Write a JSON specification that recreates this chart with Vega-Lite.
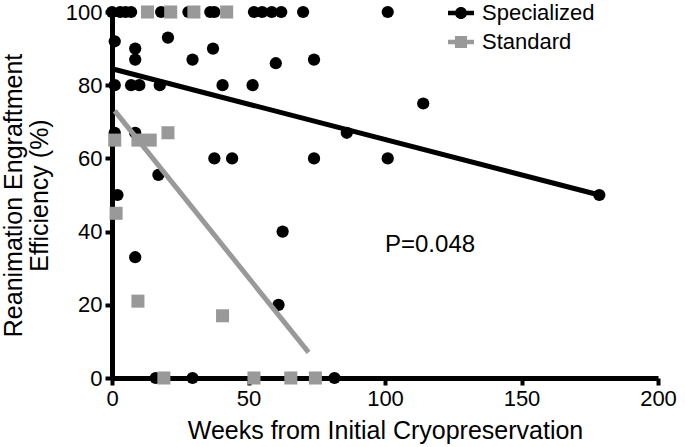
{
  "$schema": "https://vega.github.io/schema/vega-lite/v6.json",
  "width": 546,
  "height": 366,
  "autosize": "none",
  "padding": {"left": 112, "top": 12, "right": 27, "bottom": 69},
  "background": "white",
  "config": {
    "view": {"stroke": null},
    "font": "Liberation Sans",
    "axis": {
      "grid": false,
      "domainColor": "black",
      "domainWidth": 5,
      "tickColor": "black",
      "tickWidth": 4,
      "tickSize": 7,
      "labelFont": "Liberation Sans",
      "labelFontSize": 22,
      "labelColor": "black",
      "titleFont": "Liberation Sans",
      "titleFontSize": 25,
      "titleFontWeight": "normal",
      "titleColor": "black"
    },
    "legend": {
      "labelFontSize": 22,
      "labelColor": "black",
      "labelFont": "Liberation Sans",
      "symbolOpacity": 1,
      "symbolStrokeWidth": 0
    }
  },
  "datasets": {
    "points": [
      {"group": "Specialized", "weeks": 0, "efficiency": 100},
      {"group": "Specialized", "weeks": 3, "efficiency": 100},
      {"group": "Specialized", "weeks": 5, "efficiency": 100},
      {"group": "Specialized", "weeks": 7, "efficiency": 100},
      {"group": "Specialized", "weeks": 18, "efficiency": 100},
      {"group": "Specialized", "weeks": 28, "efficiency": 100},
      {"group": "Specialized", "weeks": 36, "efficiency": 100},
      {"group": "Specialized", "weeks": 37.5, "efficiency": 100},
      {"group": "Specialized", "weeks": 52, "efficiency": 100},
      {"group": "Specialized", "weeks": 55, "efficiency": 100},
      {"group": "Specialized", "weeks": 58.5, "efficiency": 100},
      {"group": "Specialized", "weeks": 62, "efficiency": 100},
      {"group": "Specialized", "weeks": 70, "efficiency": 100},
      {"group": "Specialized", "weeks": 101, "efficiency": 100},
      {"group": "Specialized", "weeks": 1, "efficiency": 92},
      {"group": "Specialized", "weeks": 20.5, "efficiency": 93},
      {"group": "Specialized", "weeks": 8.5, "efficiency": 90},
      {"group": "Specialized", "weeks": 37, "efficiency": 90},
      {"group": "Specialized", "weeks": 8.5, "efficiency": 87},
      {"group": "Specialized", "weeks": 29.5, "efficiency": 87},
      {"group": "Specialized", "weeks": 60, "efficiency": 86},
      {"group": "Specialized", "weeks": 74, "efficiency": 87},
      {"group": "Specialized", "weeks": 1, "efficiency": 80},
      {"group": "Specialized", "weeks": 7, "efficiency": 80},
      {"group": "Specialized", "weeks": 10, "efficiency": 80},
      {"group": "Specialized", "weeks": 17.5, "efficiency": 80},
      {"group": "Specialized", "weeks": 40.5, "efficiency": 80},
      {"group": "Specialized", "weeks": 51.5, "efficiency": 80},
      {"group": "Specialized", "weeks": 1, "efficiency": 67},
      {"group": "Specialized", "weeks": 8.5, "efficiency": 67},
      {"group": "Specialized", "weeks": 86, "efficiency": 67},
      {"group": "Specialized", "weeks": 114, "efficiency": 75},
      {"group": "Specialized", "weeks": 37.5, "efficiency": 60},
      {"group": "Specialized", "weeks": 44, "efficiency": 60},
      {"group": "Specialized", "weeks": 74, "efficiency": 60},
      {"group": "Specialized", "weeks": 101, "efficiency": 60},
      {"group": "Specialized", "weeks": 17, "efficiency": 55.5},
      {"group": "Specialized", "weeks": 2, "efficiency": 50},
      {"group": "Specialized", "weeks": 178.5, "efficiency": 50},
      {"group": "Specialized", "weeks": 62.5, "efficiency": 40},
      {"group": "Specialized", "weeks": 8.5, "efficiency": 33},
      {"group": "Specialized", "weeks": 61, "efficiency": 20},
      {"group": "Specialized", "weeks": 16, "efficiency": 0},
      {"group": "Specialized", "weeks": 29.5, "efficiency": 0},
      {"group": "Specialized", "weeks": 81.5, "efficiency": 0},
      {"group": "Standard", "weeks": 13, "efficiency": 100},
      {"group": "Standard", "weeks": 21.5, "efficiency": 100},
      {"group": "Standard", "weeks": 30, "efficiency": 100},
      {"group": "Standard", "weeks": 42, "efficiency": 100},
      {"group": "Standard", "weeks": 1, "efficiency": 65},
      {"group": "Standard", "weeks": 9.5, "efficiency": 65},
      {"group": "Standard", "weeks": 14, "efficiency": 65},
      {"group": "Standard", "weeks": 20.5, "efficiency": 67},
      {"group": "Standard", "weeks": 1.5, "efficiency": 45},
      {"group": "Standard", "weeks": 9.5, "efficiency": 21},
      {"group": "Standard", "weeks": 40.5, "efficiency": 17},
      {"group": "Standard", "weeks": 19, "efficiency": 0},
      {"group": "Standard", "weeks": 52, "efficiency": 0},
      {"group": "Standard", "weeks": 65.5, "efficiency": 0},
      {"group": "Standard", "weeks": 74.5, "efficiency": 0}
    ],
    "fits": [
      {"group": "Specialized", "weeks": 0, "efficiency": 84.5},
      {"group": "Specialized", "weeks": 178.5, "efficiency": 50},
      {"group": "Standard", "weeks": 1, "efficiency": 73},
      {"group": "Standard", "weeks": 72, "efficiency": 7}
    ],
    "notes": [
      {"label": "P=0.048", "weeks": 100, "efficiency": 36.3}
    ]
  },
  "layer": [
    {
      "data": {"name": "fits"},
      "mark": {"type": "point", "filled": true, "opacity": 0},
      "encoding": {
        "x": {
          "field": "weeks", "type": "quantitative",
          "scale": {"domain": [0, 200], "nice": false, "zero": false},
          "axis": {"values": [0, 50, 100, 150, 200], "title": "Weeks from Initial Cryopreservation", "labelPadding": 3, "titlePadding": 9, "labelFlush": false}
        },
        "y": {
          "field": "efficiency", "type": "quantitative",
          "scale": {"domain": [0, 100], "nice": false},
          "axis": {"values": [0, 20, 40, 60, 80, 100], "title": ["Reanimation Engraftment", "Efficiency (%)"], "titleLineHeight": 26, "labelPadding": 3, "titlePadding": 13, "labelFlush": false}
        },
        "color": {
          "field": "group", "type": "nominal",
          "scale": {"domain": ["Specialized", "Standard"], "range": ["#000000", "#999999"]},
          "legend": {
            "title": null,
            "orient": "none",
            "legendX": 338,
            "legendY": -10,
            "labelOffset": 10,
            "symbolSize": 300,
            "symbolOpacity": 1,
            "rowPadding": 7
          }
        },
        "shape": {
          "field": "group", "type": "nominal",
          "scale": {"domain": ["Specialized", "Standard"], "range": [
            "M-1.5,-0.27 H1.5 V0.27 H-1.5 Z M0.7,0 A0.7,0.7 0 1,1 -0.7,0 A0.7,0.7 0 1,1 0.7,0 Z",
            "M-1.5,-0.27 H1.5 V0.27 H-1.5 Z M-0.7,-0.7 H0.7 V0.7 H-0.7 Z"
          ]},
          "legend": {
            "title": null,
            "orient": "none",
            "legendX": 338,
            "legendY": -10,
            "labelOffset": 10,
            "symbolSize": 300,
            "symbolOpacity": 1,
            "rowPadding": 7
          }
        }
      }
    },
    {
      "data": {"name": "points"},
      "transform": [{"filter": "datum.group === 'Specialized'"}],
      "mark": {"type": "point", "filled": true, "opacity": 1, "shape": "circle", "size": 150},
      "encoding": {
        "x": {"field": "weeks", "type": "quantitative"},
        "y": {"field": "efficiency", "type": "quantitative"},
        "color": {"field": "group", "type": "nominal"}
      }
    },
    {
      "data": {"name": "points"},
      "transform": [{"filter": "datum.group === 'Standard'"}],
      "mark": {"type": "point", "filled": true, "opacity": 1, "shape": "square", "size": 170},
      "encoding": {
        "x": {"field": "weeks", "type": "quantitative"},
        "y": {"field": "efficiency", "type": "quantitative"},
        "color": {"field": "group", "type": "nominal"}
      }
    },
    {
      "data": {"name": "fits"},
      "mark": {"type": "line", "strokeWidth": 5},
      "encoding": {
        "x": {"field": "weeks", "type": "quantitative"},
        "y": {"field": "efficiency", "type": "quantitative"},
        "color": {"field": "group", "type": "nominal"},
        "detail": {"field": "group"}
      }
    },
    {
      "data": {"name": "notes"},
      "mark": {"type": "text", "align": "left", "baseline": "middle", "fontSize": 24, "font": "Liberation Sans", "color": "black"},
      "encoding": {
        "x": {"field": "weeks", "type": "quantitative"},
        "y": {"field": "efficiency", "type": "quantitative"},
        "text": {"field": "label"}
      }
    }
  ]
}
